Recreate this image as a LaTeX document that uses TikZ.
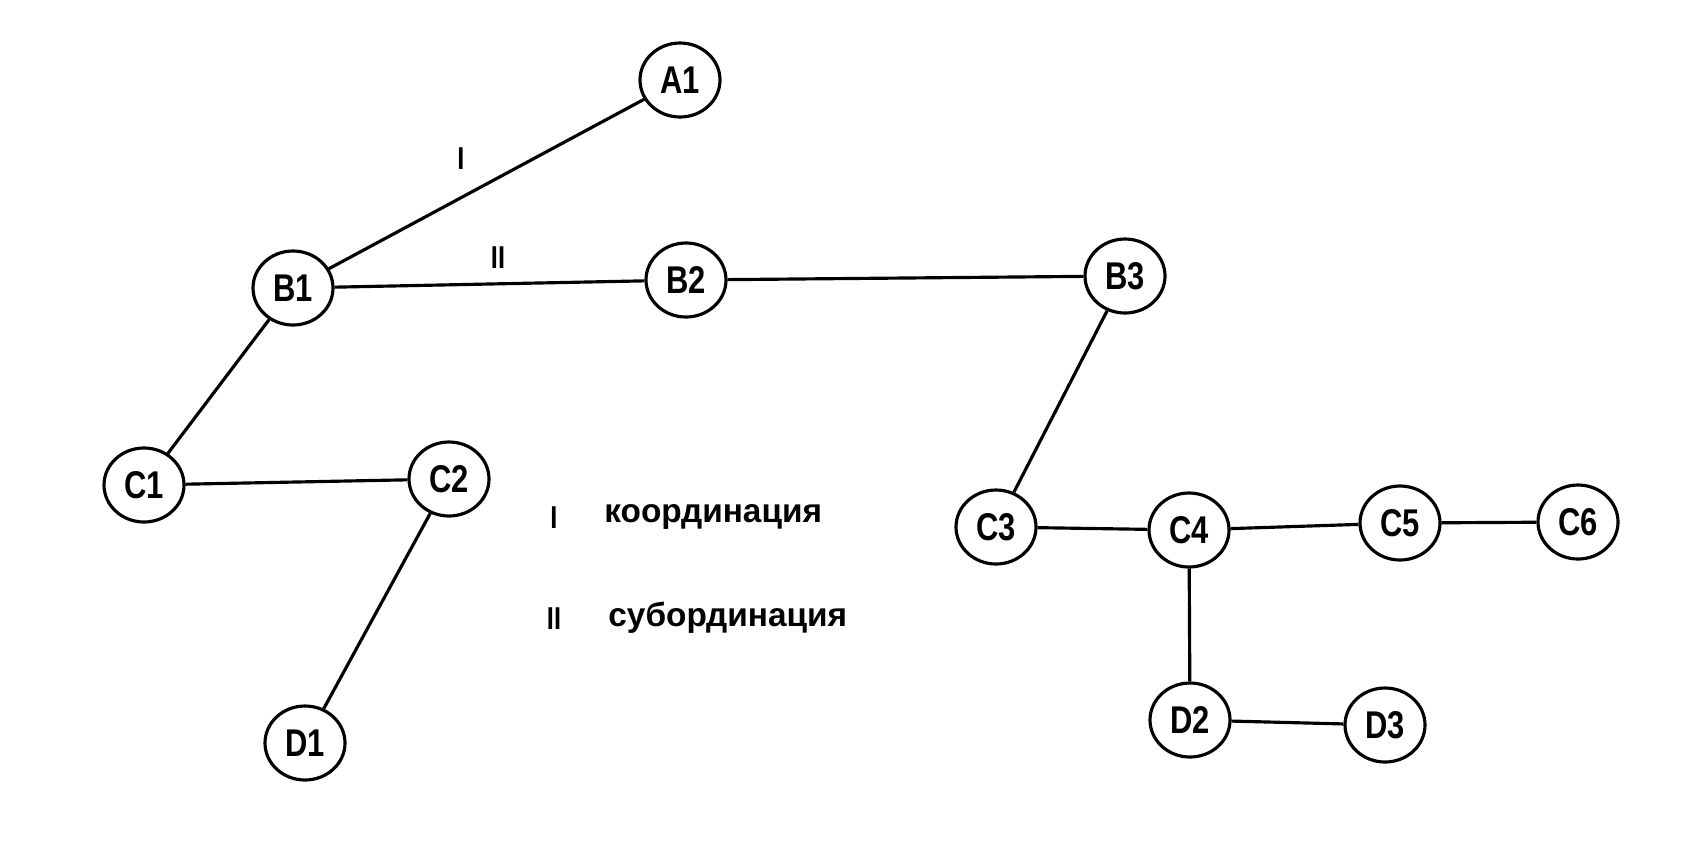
\documentclass[tikz,border=0pt]{standalone}
\usepackage{fontspec}
\usepackage{tikz}
\usetikzlibrary{shapes.geometric}
\newfontfamily\nodefont{Liberation Sans}[FakeStretch=0.8]
\newfontfamily\legendfont{Liberation Sans}

\begin{document}
\begin{tikzpicture}[
		vertex/.style={draw,ellipse,line width=0.9pt,minimum width=0.8cm,minimum height=0.74cm,inner sep=0pt,
			font=\nodefont\fontsize{11}{12}\selectfont\bfseries},
		link/.style={line width=0.9pt},
		tag/.style={font=\nodefont\fontsize{9}{10}\selectfont\bfseries},
		legend/.style={anchor=west,font=\legendfont\fontsize{9.5}{11}\selectfont\bfseries}]
		\useasboundingbox (0,0) rectangle (16.89,8.56);

		% vertices
		\node [vertex] (A1) at (6.80,7.76) {A1};
		\node [vertex] (B1) at (2.93,5.68) {B1};
		\node [vertex] (B2) at (6.86,5.76) {B2};
		\node [vertex] (B3) at (11.25,5.80) {B3};
		\node [vertex] (C1) at (1.44,3.71) {C1};
		\node [vertex] (C2) at (4.49,3.77) {C2};
		\node [vertex] (C3) at (9.96,3.29) {C3};
		\node [vertex] (C4) at (11.89,3.26) {C4};
		\node [vertex] (C5) at (14.00,3.33) {C5};
		\node [vertex] (C6) at (15.78,3.34) {C6};
		\node [vertex] (D1) at (3.05,1.13) {D1};
		\node [vertex] (D2) at (11.90,1.36) {D2};
		\node [vertex] (D3) at (13.85,1.31) {D3};

		% links
		\draw [link] (B1) -- (A1);
		\draw [link] (B1) -- (B2);
		\draw [link] (B2) -- (B3);
		\draw [link] (B1) -- (C1);
		\draw [link] (C1) -- (C2);
		\draw [link] (C2) -- (D1);
		\draw [link] (B3) -- (C3);
		\draw [link] (C3) -- (C4);
		\draw [link] (C4) -- (C5);
		\draw [link] (C5) -- (C6);
		\draw [link] (C4) -- (D2);
		\draw [link] (D2) -- (D3);

		% link types
		\node [tag] (t1) at (4.61,6.97) {I};
		\node [tag] (t2) at (4.98,5.98) {II};

		% legend
		\node [tag] (k1) at (5.54,3.38) {I};
		\node [legend] (l1) at (5.92,3.39) {координация};
		\node [tag] (k2) at (5.54,2.37) {II};
		\node [legend] (l2) at (5.96,2.38) {субординация};

\end{tikzpicture}
\end{document}
